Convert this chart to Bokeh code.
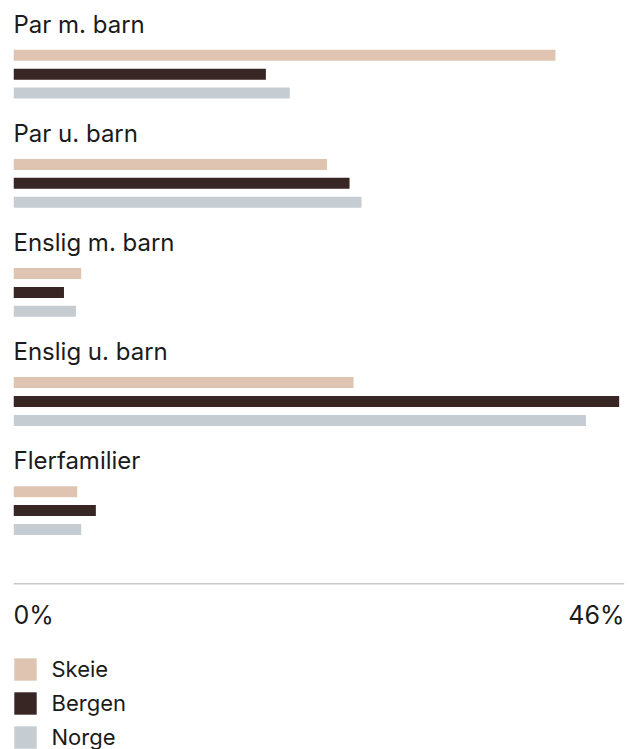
from bokeh.plotting import figure
from bokeh.models import Range1d, Span, Label, Legend, LegendItem, ColumnDataSource
from bokeh.core.properties import value
from bokeh.embed import file_html
from bokeh.resources import INLINE

# ---- data ----
categories = ["Par m. barn", "Par u. barn", "Enslig m. barn", "Enslig u. barn", "Flerfamilier"]
series_names = ["Skeie", "Bergen", "Norge"]
skeie = [40.8, 23.6, 5.1, 25.6, 4.8]
bergen = [19.0, 25.3, 3.8, 45.6, 6.2]
norge = [20.8, 26.2, 4.7, 43.1, 5.1]
tick_values = [0, 46]
tick_labels = ["0%", "46%"]

# ---- style / layout ----
colors = ["#dfc5b1", "#372624", "#c5cdd3"]
TEXT = "#1b1b1b"
FONT = "Inter"
W, H = 639, 749
TOP = 0                     # page y of figure top
GROUP0 = 54.8               # centre of first bar (page px)
GROUP_PITCH = 109.1
BAR_PITCH = 18.9
BAR_H = 11
AXIS_Y = 583.3

p = figure(width=W, height=H, output_backend="svg", toolbar_location=None, tools="",
           x_axis_location=None, y_axis_location=None,
           x_range=Range1d(tick_values[0], tick_values[-1]),
           y_range=Range1d(TOP + H, TOP),
           min_border_left=13, min_border_right=15, min_border_top=0, min_border_bottom=0,
           outline_line_color=None, background_fill_color="white", border_fill_color="white")
p.grid.visible = False

renderers = []
for j, (name, vals, col) in enumerate(zip(series_names, [skeie, bergen, norge], colors)):
    ys = [GROUP0 + i * GROUP_PITCH + j * BAR_PITCH for i in range(len(categories))]
    src = ColumnDataSource(dict(y=ys, right=vals, cat=categories))
    r = p.hbar(y="y", left=0, right="right", height=BAR_H, source=src,
               fill_color=col, line_color=None)
    renderers.append((name, r))

# category labels above each group
p.text(x=[tick_values[0]] * len(categories),
       y=[GROUP0 + i * GROUP_PITCH - 31 for i in range(len(categories))],
       text=categories, text_font=value(FONT), text_font_size="24px",
       text_color=TEXT, text_align="left", text_baseline="alphabetic")

# axis line
p.add_layout(Span(location=AXIS_Y, dimension="width", line_color="#c8c8c8", line_width=1.5))

# tick labels
for v, t, al in zip(tick_values, tick_labels, ["left", "right"]):
    p.add_layout(Label(x=v, y=614, text=t, text_align=al, text_baseline="alphabetic",
                       text_font=FONT, text_font_size="25px", text_color=TEXT))

legend = Legend(items=[LegendItem(label=n, renderers=[r]) for n, r in renderers],
                location=(-2.5, -2.2), orientation="vertical",
                glyph_width=28, glyph_height=28, spacing=6, padding=0, margin=0,
                label_standoff=13, label_text_font=FONT, label_text_font_size="22px",
                label_text_color=TEXT, border_line_color=None, background_fill_alpha=0)
p.add_layout(legend)

open("out.html", "w").write(file_html(p, INLINE))
